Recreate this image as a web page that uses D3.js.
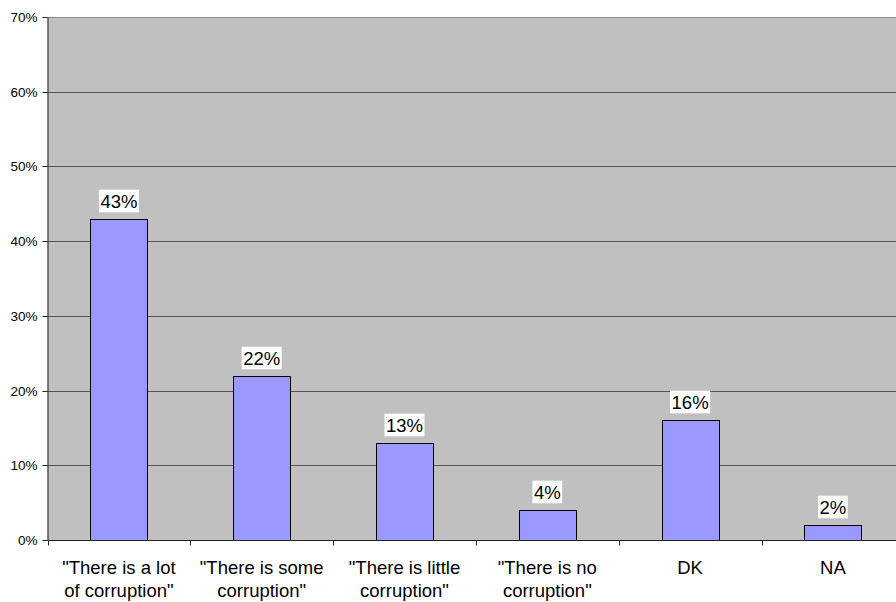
<!DOCTYPE html>
<html>
<head>
<meta charset="utf-8">
<script src="https://cdn.jsdelivr.net/npm/d3@7"></script>
<style>
html,body{margin:0;padding:0;background:#fff;}
svg{display:block;font-family:"Liberation Sans",Arial,sans-serif;}
</style>
</head>
<body>
<svg id="chart" width="896" height="602"></svg>
<script>
const categories = [
  ['"There is a lot', 'of corruption"'],
  ['"There is some', 'corruption"'],
  ['"There is little', 'corruption"'],
  ['"There is no', 'corruption"'],
  ['DK'],
  ['NA']
];
const values = [43, 22, 13, 4, 16, 2];
const yTicks = [0, 10, 20, 30, 40, 50, 60, 70];

(function () {
const svg = d3.select("#chart");
const mLeft = 47.5, mTop = 17, mBottom = 540, bandW = 142.8;
const x = d3.scaleBand().domain(d3.range(categories.length))
  .range([mLeft, mLeft + bandW * categories.length]).paddingInner(0).paddingOuter(0);
const y = d3.scaleLinear().domain([0, 70]).range([mBottom, mTop]);

svg.append("rect").attr("x", mLeft).attr("y", y(70))
  .attr("width", x.range()[1] - mLeft).attr("height", mBottom - y(70))
  .attr("fill", "#c0c0c0");

svg.append("g").selectAll("line").data(yTicks.filter(d => d > 0)).join("line")
  .attr("x1", mLeft).attr("x2", 896)
  .attr("y1", d => Math.round(y(d)) + 0.5).attr("y2", d => Math.round(y(d)) + 0.5)
  .attr("stroke", d => d === 70 ? "#8a8a8a" : "#555").attr("stroke-width", 1);

const yAxis = d3.axisLeft(y).tickValues(yTicks).tickFormat(d => d + "%").tickSize(5).tickSizeOuter(0);
const gy = svg.append("g").attr("transform", `translate(${mLeft},0)`).call(yAxis);
gy.select(".domain").attr("stroke", "#222");
gy.selectAll(".tick line").attr("stroke", "#222");
gy.selectAll(".tick text").attr("font-size", "13.5px").attr("fill", "#000")
  .attr("font-family", '"Liberation Sans",Arial,sans-serif').attr("x", -10);
gy.selectAll(".tick").attr("transform", d => `translate(0,${Math.round(y(d)) + 0.5})`);

const barW = bandW * 0.4;
svg.append("g").selectAll("rect").data(values).join("rect")
  .attr("x", (d, i) => Math.round(x(i) + (bandW - barW) / 2) + 0.5)
  .attr("y", d => Math.round(y(d)) + 0.5)
  .attr("width", Math.round(barW))
  .attr("height", d => Math.round(y(0)) - Math.round(y(d)))
  .attr("fill", "#9999ff").attr("stroke", "#000").attr("stroke-width", 1);

const xb = d3.scaleLinear().domain([0, categories.length]).range([mLeft, mLeft + bandW * categories.length]);
const gx = svg.append("g").attr("transform", `translate(0,${mBottom + 0.5})`);
gx.append("line").attr("x1", mLeft).attr("x2", 896).attr("stroke", "#222");
gx.selectAll("line.t").data(d3.range(categories.length + 1)).join("line").attr("class", "t")
  .attr("x1", d => Math.round(xb(d)) + 0.5).attr("x2", d => Math.round(xb(d)) + 0.5)
  .attr("y1", 0).attr("y2", 5).attr("stroke", "#222");

const cl = svg.append("g").selectAll("text").data(categories).join("text")
  .attr("text-anchor", "middle").attr("font-size", "18.5px").attr("fill", "#000");
cl.each(function(lines, i) {
  const cx = x(i) + bandW / 2;
  d3.select(this).selectAll("tspan").data(lines).join("tspan")
    .attr("x", cx).attr("y", (d, j) => 574 + j * 22.5).text(d => d);
});

const lg = svg.append("g");
values.forEach((v, i) => {
  const cx = x(i) + bandW / 2;
  const barTop = Math.round(y(v));
  const base = barTop - 11;
  const g = lg.append("g");
  const r = g.append("rect").attr("fill", "#fff");
  const t = g.append("text").attr("x", cx).attr("y", base).attr("text-anchor", "middle")
    .attr("font-size", "18.5px").attr("fill", "#000").text(v + "%");
  const w = t.node().getComputedTextLength();
  r.attr("x", cx - w / 2 - 1.5).attr("width", w + 3)
    .attr("y", base - 18.3).attr("height", 22.6);
});
})();
</script>
</body>
</html>
